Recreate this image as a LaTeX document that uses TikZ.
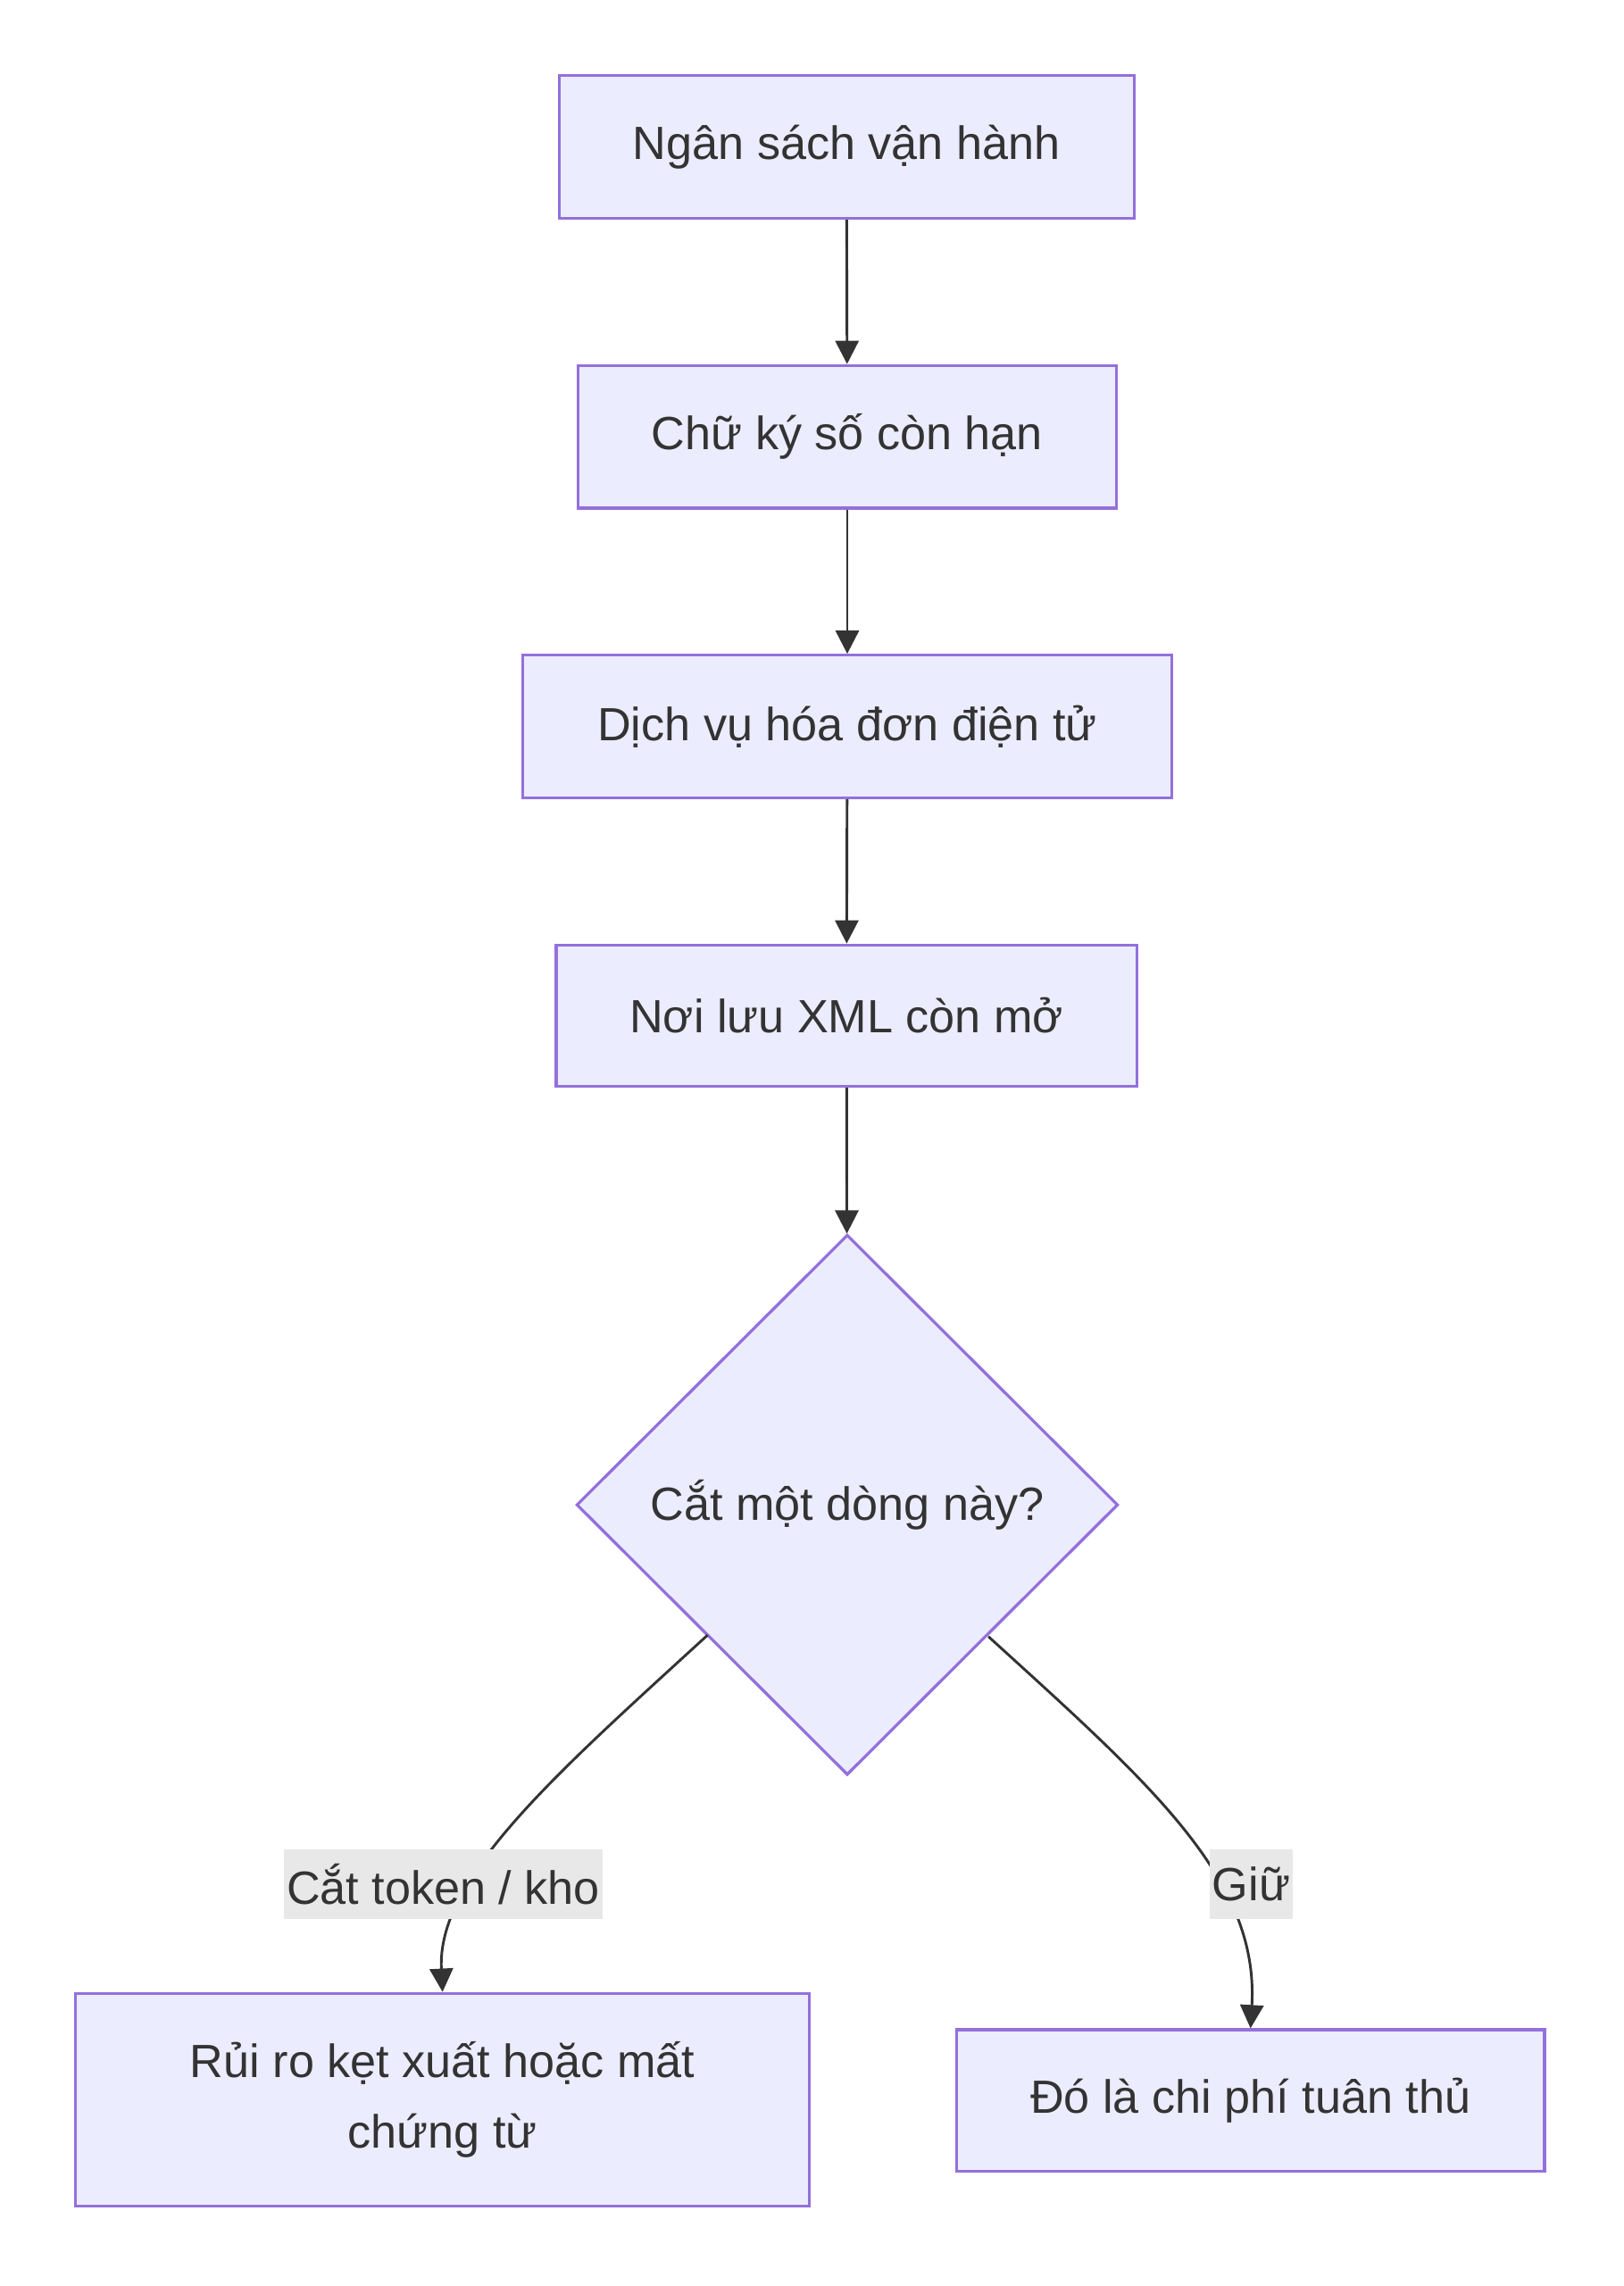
\documentclass[tikz,border=0pt]{standalone}
\usepackage{fontspec}
\setmainfont{Liberation Sans}
\usetikzlibrary{shapes.geometric,arrows.meta}
\definecolor{nfill}{HTML}{ECECFF}
\definecolor{nline}{HTML}{9370DB}
\definecolor{txt}{HTML}{333333}
\definecolor{lbg}{HTML}{E8E8E8}
\begin{document}
\begin{tikzpicture}[x=0.5pt,y=-0.5pt,
  box/.style={draw=nline,fill=nfill,line width=1pt,text=txt,font=\fontsize{16}{24}\selectfont,align=center,inner sep=0pt},
  arr/.style={draw=txt,line width=0.9pt,-{Triangle[length=8pt,width=8pt]}},
  lab/.style={fill=lbg,text=txt,font=\fontsize{16}{20}\selectfont,inner sep=1pt,minimum height=24pt}]
\useasboundingbox (0,0) rectangle (1115,1570);
\node[box,minimum width=197.5pt,minimum height=49pt] (a) at (581.5,101) {Ngân sách vận hành};
\node[box,minimum width=185pt,minimum height=49pt] (b) at (582,300) {Chữ ký số còn hạn};
\node[box,minimum width=223pt,minimum height=49pt] (c) at (582,499) {Dịch vụ hóa đơn điện tử};
\node[box,minimum width=199.5pt,minimum height=48.5pt] (d) at (581.5,697.5) {Nơi lưu XML còn mở};
\node[box,diamond,minimum width=186pt,minimum height=185.5pt] (e) at (582,1033.5) {Cắt một dòng này?};
\node[box,minimum width=252pt,minimum height=73pt] (f) at (304,1442) {Rủi ro kẹt xuất hoặc mất\\chứng từ};
\node[box,minimum width=202pt,minimum height=48.5pt] (g) at (859,1442.5) {Đó là chi phí tuân thủ};
\draw[arr] (a) -- (b);
\draw[arr] (b) -- (c);
\draw[arr] (c) -- (d);
\draw[arr] (d) -- (e);
\coordinate (el) at (486,1123);
\coordinate (er) at (679,1124);
\draw[arr] (el) .. controls (380,1220) and (300,1290) .. (f.north);
\draw[arr] (er) .. controls (790,1225) and (865,1290) .. (g.north);
\node[lab,minimum width=109.5pt] (l1) at (304.5,1294) {Cắt token / kho};
\node[lab,minimum width=27.5pt] (l2) at (859.5,1294) {Giữ};
\end{tikzpicture}
\end{document}
